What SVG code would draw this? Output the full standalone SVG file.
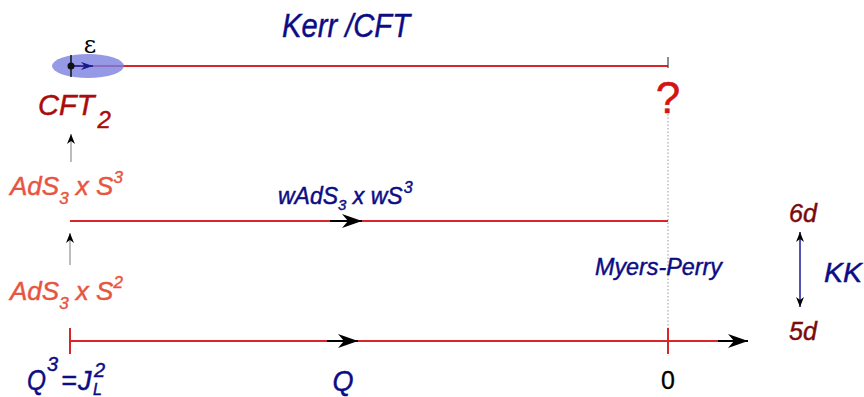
<svg xmlns="http://www.w3.org/2000/svg" width="864" height="397" viewBox="0 0 864 397">
<defs>
<style>
.t{font-family:"Liberation Sans",Arial,sans-serif;font-style:italic;stroke-width:0.45}
.navy{fill:#0c0c85;stroke:#0c0c85}
.ads{fill:#e8553f;stroke:#e8553f}
.dred{fill:#a80c0c;stroke:#a80c0c}
.brown{fill:#7a0a0a;stroke:#7a0a0a}
.rline{stroke:#d8252a;stroke-width:2;fill:none}
</style>
<marker id="big" viewBox="0 0 10 10" refX="10" refY="5" markerWidth="20" markerHeight="14" markerUnits="userSpaceOnUse" orient="auto" preserveAspectRatio="none"><path d="M0,0 L10,5 L0,10 L3,5 z" fill="#000"/></marker>
<marker id="sm" viewBox="0 0 10 10" refX="10" refY="5" markerWidth="10" markerHeight="8" markerUnits="userSpaceOnUse" orient="auto-start-reverse" preserveAspectRatio="none"><path d="M0,0 L10,5 L0,10 L3,5 z" fill="#000"/></marker>
<marker id="nv" viewBox="0 0 10 10" refX="10" refY="5" markerWidth="12" markerHeight="8" markerUnits="userSpaceOnUse" orient="auto" preserveAspectRatio="none"><path d="M0,0 L10,5 L0,10 L3,5 z" fill="#1a1a8a"/></marker>
</defs>

<g id="connectors">
<line x1="668" y1="114" x2="668" y2="356" stroke="#999" stroke-width="1" stroke-dasharray="1.5 2"/>
<line class="rline" x1="70" y1="66" x2="668" y2="66"/>
<line x1="668" y1="57" x2="668" y2="68" stroke="#444" stroke-width="1.2"/>
<line class="rline" x1="70" y1="221" x2="668" y2="221"/>
<line x1="330" y1="221" x2="362" y2="221" stroke="#000" stroke-width="2" marker-end="url(#big)"/>
<line class="rline" x1="70" y1="341" x2="735" y2="341"/>
<line class="rline" x1="70" y1="328" x2="70" y2="354"/>
<line class="rline" x1="668" y1="328" x2="668" y2="354"/>
<line x1="327" y1="341" x2="358" y2="341" stroke="#000" stroke-width="2" marker-end="url(#big)"/>
<line x1="718" y1="341" x2="748" y2="341" stroke="#000" stroke-width="2" marker-end="url(#big)"/>
<line x1="71" y1="162" x2="71" y2="134" stroke="#999" stroke-width="1.3" marker-end="url(#sm)"/>
<line x1="70" y1="265" x2="70" y2="233" stroke="#999" stroke-width="1.3" marker-end="url(#sm)"/>
<line x1="800" y1="232" x2="800" y2="307" stroke="#1a1a9a" stroke-width="1.5" marker-start="url(#sm)" marker-end="url(#sm)"/>
</g>

<g id="epsilon-blob">
<ellipse cx="88" cy="66" rx="36" ry="12" fill="#7b80e0" fill-opacity="0.8"/>
<line x1="71" y1="55" x2="71" y2="77" stroke="#111" stroke-width="1.5"/>
<line x1="71" y1="66" x2="93" y2="66" stroke="#1a1a8a" stroke-width="1.5" marker-end="url(#nv)"/>
<circle cx="71" cy="66" r="3.5" fill="#111"/>
<text x="90" y="53" font-family="'DejaVu Serif','Liberation Serif',serif" font-size="24" text-anchor="middle" fill="#000">ε</text>
</g>

<g id="title"><text class="t navy" x="282" y="37" font-size="34" textLength="128" lengthAdjust="spacingAndGlyphs">Kerr /CFT</text></g>

<g id="cft2"><text class="t dred" x="38" y="115" font-size="29">CFT<tspan font-size="24" dy="13" dx="3">2</tspan></text></g>

<g id="ads3s3"><text class="t ads" x="10" y="195" font-size="26">AdS<tspan font-size="17" dy="9">3</tspan><tspan dy="-9"> x S</tspan><tspan font-size="17" dy="-12">3</tspan></text></g>

<g id="ads3s2"><text class="t ads" x="10" y="300" font-size="26">AdS<tspan font-size="17" dy="9">3</tspan><tspan dy="-9"> x S</tspan><tspan font-size="17" dy="-12">2</tspan></text></g>

<g id="wads"><text class="t navy" x="278" y="204" font-size="23">wAdS<tspan font-size="15" dy="6">3</tspan><tspan dy="-6"> x wS</tspan><tspan font-size="16" dy="-11" dx="1">3</tspan></text></g>

<g id="question"><text x="668" y="113" font-family="'Liberation Sans',Arial,sans-serif" font-size="44" text-anchor="middle" fill="#d41414" stroke="#d41414" stroke-width="0.5">?</text></g>

<g id="myers"><text class="t navy" x="595" y="275" font-size="24" textLength="127" lengthAdjust="spacingAndGlyphs">Myers-Perry</text></g>

<g id="d6"><text class="t brown" x="789" y="222" font-size="25">6d</text></g>
<g id="d5"><text class="t brown" x="789" y="340" font-size="25">5d</text></g>
<g id="kk"><text class="t navy" x="824" y="282" font-size="28" textLength="38" lengthAdjust="spacingAndGlyphs">KK</text></g>

<g id="qj">
<text class="t navy" x="27" y="390" font-size="30" textLength="19" lengthAdjust="spacingAndGlyphs">Q</text>
<text class="t navy" x="47" y="371" font-size="20">3</text>
<text class="t navy" x="61" y="390" font-size="27">=</text>
<text class="t navy" x="78" y="390" font-size="27">J</text>
<text class="t navy" x="94" y="377" font-size="20">2</text>
<text class="t navy" x="93" y="395" font-size="16">L</text>
</g>

<g id="q"><text class="t navy" x="343" y="391" font-size="30" text-anchor="middle" textLength="21" lengthAdjust="spacingAndGlyphs">Q</text></g>

<g id="zero"><text x="668" y="389" font-family="'Liberation Sans',Arial,sans-serif" font-size="25" text-anchor="middle" fill="#000" stroke="#000" stroke-width="0.3">0</text></g>
</svg>
